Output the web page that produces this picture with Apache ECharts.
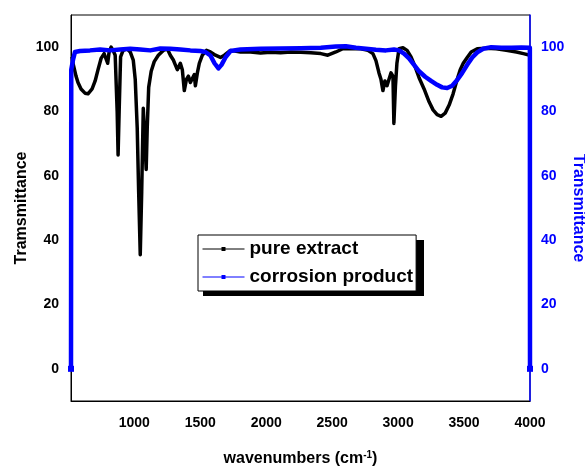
<!DOCTYPE html>
<html>
<head>
<meta charset="utf-8">
<script src="https://cdn.jsdelivr.net/npm/echarts@6/dist/echarts.min.js"></script>
<style>
html,body{margin:0;padding:0;background:#fff;}
#chart{width:585px;height:466px;}
</style>
</head>
<body>
<div id="chart"></div>
<script>
// ---- data ----
var seriesNames = ['pure extract', 'corrosion product'];
var xTickLabels = [1000, 1500, 2000, 2500, 3000, 3500, 4000];
var yTickLabels = [0, 20, 40, 60, 80, 100];

var pureWn = [528,535,558,573,596,626,649,680,703,725,748,771,786,798,809,824,839,855,870,877,885,896,915,946,969,992,1007,1022,1033,1045,1056,1068,1079,1090,1098,1109,1128,1151,1182,1220,1250,1273,1296,1311,1326,1349,1364,1379,1395,1410,1425,1440,1455,1463,1478,1493,1516,1547,1577,1615,1653,1683,1729,1805,1881,1957,2033,2109,2186,2262,2338,2414,2467,2528,2581,2642,2718,2771,2809,2832,2855,2870,2885,2900,2916,2931,2946,2961,2968,2980,2991,3007,3037,3068,3098,3128,3159,3197,3235,3265,3296,3326,3357,3387,3417,3448,3471,3494,3524,3554,3600,3668,3744,3820,3897,3950,4000];
var pureT  = [97,95,91,89,87,85.7,85.5,87,89.5,93,96.5,98,98.5,95,98.5,100,99,97.5,80,66.5,80,97,99,99.5,98.5,96,90,75,55,35.5,55,81,72,62,75,87.5,92.5,95.5,97.5,99,99.5,97.5,96,94.5,93,95,93,86.5,90,91,89,89.5,91.5,88,92,95,97.5,99,98.5,97.5,96.8,97.5,99,98.5,98.5,98.2,98.4,98.3,98.5,98.4,98.3,98,97.5,98.5,99.5,99.5,99.5,99,98,95.8,92,90,86.5,89.5,88,90,92,91,76.3,88,95,99.5,99.8,99,97,94,90.5,87,83,80.5,79,78.5,79.5,82,85.5,90,93,95,96.8,98.5,99.5,99.7,99.5,99,98.5,98,97.5];

var corrWn = [520,522,535,550,588,664,741,817,893,969,1045,1121,1197,1273,1349,1425,1501,1539,1577,1608,1638,1661,1691,1729,1805,1957,2109,2262,2414,2528,2604,2680,2756,2832,2908,2969,3007,3045,3083,3121,3159,3205,3250,3296,3334,3372,3410,3448,3486,3524,3562,3600,3645,3706,3782,3859,3935,3999,4000];
var corrT  = [0,93,96,98.5,98.8,99,99.3,99,99.3,99.5,99.3,99,99.6,99.5,99.3,99,98.8,98.5,97.4,95,93.4,94.5,96.8,98.8,99.3,99.5,99.6,99.7,99.8,100.2,100.3,99.8,99.5,99.2,99,99.3,99,98,96.5,94.5,92.5,90.8,89.5,88.3,87.5,87.3,88,89.8,92,94.5,96.8,98.4,99.5,100,99.8,99.8,99.9,99.8,0];

function pairs(xs, ys){ return xs.map(function(x,i){ return [x, ys[i]]; }); }

var FONT = '"Liberation Sans", Arial, sans-serif';
var BLUE = '#0000ff';

var chart = echarts.init(document.getElementById('chart'), null, {renderer:'canvas'});
var lastCorr = corrWn.length - 1;

var LEG = { left: 198, top: 235, w: 221, h: 56 };

var option = {
  animation: false,
  backgroundColor: '#fff',
  grid: { left: 71, right: 55, top: 15, bottom: 65, outerBoundsMode: 'none', containLabel: false,
          show: true, borderColor: '#000', borderWidth: 1, backgroundColor: 'transparent' },
  graphic: [{
    type: 'rect', z: 1, silent: true,
    shape: { x: LEG.left + 5, y: LEG.top + 5, width: LEG.w, height: LEG.h },
    style: { fill: '#000' }
  }],
  legend: {
    data: seriesNames,
    orient: 'vertical',
    left: LEG.left, top: LEG.top,
    padding: [3, 3, 3, 4],
    itemGap: 6,
    itemWidth: 42, itemHeight: 5,
    backgroundColor: '#fff',
    borderColor: '#000', borderWidth: 1,
    z: 5,
    lineStyle: { width: 1 },
    textStyle: { fontFamily: FONT, fontWeight: 'bold', fontSize: 19, color: '#000', lineHeight: 22 }
  },
  xAxis: {
    type: 'value', min: 520, max: 4000, interval: 20,
    name: '{a|wavenumbers (cm}{b|-1}{a|)}',
    nameLocation: 'middle', nameGap: 49, nameMoveOverlap: false,
    nameTextStyle: {
      rich: {
        a: { fontFamily: FONT, fontWeight: 'bold', fontSize: 16, color: '#000' },
        b: { fontFamily: FONT, fontWeight: 'bold', fontSize: 10, color: '#000', verticalAlign: 'top', padding: [0,0,8,0] }
      }
    },
    axisLine: { show: true, onZero: false, lineStyle: { color: '#000', width: 1 } },
    axisTick: { show: false },
    splitLine: { show: false },
    axisLabel: {
      margin: 15,
      fontFamily: FONT, fontWeight: 'bold', fontSize: 14, color: '#000',
      showMinLabel: false, showMaxLabel: true,
      formatter: function(v){ return xTickLabels.indexOf(v) >= 0 ? String(v) : ''; }
    }
  },
  yAxis: [{
    type: 'value', min: -10, max: 110, interval: 10, position: 'left',
    name: 'Tramsmittance', nameLocation: 'middle', nameGap: 41, nameMoveOverlap: false,
    nameTextStyle: { fontFamily: FONT, fontWeight: 'bold', fontSize: 16, color: '#000' },
    axisLine: { show: true, onZero: false, lineStyle: { color: '#000', width: 1 } },
    axisTick: { show: false }, splitLine: { show: false },
    axisLabel: {
      margin: 12, fontFamily: FONT, fontWeight: 'bold', fontSize: 14, color: '#000',
      formatter: function(v){ return yTickLabels.indexOf(v) >= 0 ? String(v) : ''; }
    }
  }, {
    type: 'value', min: -10, max: 110, interval: 10, position: 'right',
    name: 'Transmittance', nameLocation: 'middle', nameGap: 40, nameRotate: -90, nameMoveOverlap: false,
    nameTextStyle: { fontFamily: FONT, fontWeight: 'bold', fontSize: 16, color: BLUE },
    axisLine: { show: true, onZero: false, lineStyle: { color: BLUE, width: 1.5 } },
    axisTick: { show: false }, splitLine: { show: false },
    axisLabel: {
      margin: 11, fontFamily: FONT, fontWeight: 'bold', fontSize: 14, color: BLUE,
      formatter: function(v){ return yTickLabels.indexOf(v) >= 0 ? String(v) : ''; }
    }
  }],
  series: [{
    name: seriesNames[0], type: 'line', yAxisIndex: 0,
    data: pairs(pureWn, pureT),
    symbol: 'rect', showSymbol: false,
    lineStyle: { color: '#000', width: 3.5, join: 'round' },
    itemStyle: { color: '#000' },
    z: 2
  }, {
    name: seriesNames[1], type: 'line', yAxisIndex: 1,
    data: pairs(corrWn, corrT),
    symbol: 'rect', showSymbol: true, showAllSymbol: true,
    symbolSize: function(v, p){ return (p.dataIndex === 0 || p.dataIndex === lastCorr) ? 6 : 0; },
    lineStyle: { color: BLUE, width: 4.5, join: 'round' },
    itemStyle: { color: BLUE },
    z: 3
  }]
};
chart.setOption(option);
</script>
</body>
</html>
